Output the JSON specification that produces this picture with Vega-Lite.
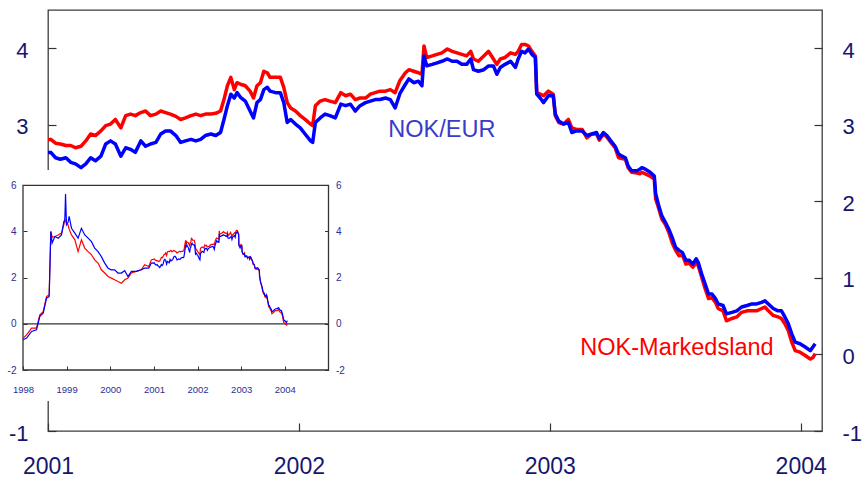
{
  "$schema": "https://vega.github.io/schema/vega-lite/v6.json",
  "width": 774,
  "height": 421,
  "autosize": "none",
  "padding": {"left": 48, "top": 10, "right": 41, "bottom": 46},
  "config": {"view": {"stroke": "#3c3c3c", "strokeWidth": 1.3}, "font": "Liberation Sans"},
  "datasets": {
    "series": [
      {"d": "1998-01-02", "mkt": -0.62, "eur": -0.69},
      {"d": "1998-01-31", "mkt": -0.48, "eur": -0.62},
      {"d": "1998-03-14", "mkt": -0.19, "eur": -0.33},
      {"d": "1998-04-24", "mkt": -0.19, "eur": -0.26},
      {"d": "1998-05-22", "mkt": 0.39, "eur": 0.32},
      {"d": "1998-06-19", "mkt": 0.53, "eur": 0.46},
      {"d": "1998-07-17", "mkt": 1.18, "eur": 1.11},
      {"d": "1998-08-08", "mkt": 1.26, "eur": 1.18},
      {"d": "1998-08-22", "mkt": 4.0, "eur": 4.0},
      {"d": "1998-09-02", "mkt": 3.75, "eur": 3.5},
      {"d": "1998-09-25", "mkt": 3.78, "eur": 3.78},
      {"d": "1998-10-22", "mkt": 3.85, "eur": 3.71},
      {"d": "1998-11-19", "mkt": 3.93, "eur": 3.85},
      {"d": "1998-12-09", "mkt": 4.3, "eur": 4.43},
      {"d": "1998-12-17", "mkt": 4.5, "eur": 4.5},
      {"d": "1998-12-23", "mkt": 4.45, "eur": 5.62},
      {"d": "1998-12-31", "mkt": 4.35, "eur": 4.29},
      {"d": "1999-01-13", "mkt": 4.29, "eur": 4.4},
      {"d": "1999-01-22", "mkt": 4.1, "eur": 4.65},
      {"d": "1999-02-11", "mkt": 3.85, "eur": 4.14},
      {"d": "1999-03-11", "mkt": 3.64, "eur": 3.93},
      {"d": "1999-04-07", "mkt": 3.13, "eur": 3.71},
      {"d": "1999-05-05", "mkt": 3.64, "eur": 4.14},
      {"d": "1999-06-02", "mkt": 3.28, "eur": 3.85},
      {"d": "1999-06-30", "mkt": 3.13, "eur": 3.71},
      {"d": "1999-07-28", "mkt": 2.99, "eur": 3.56},
      {"d": "1999-08-24", "mkt": 2.77, "eur": 3.28},
      {"d": "1999-09-21", "mkt": 2.63, "eur": 3.13},
      {"d": "1999-10-19", "mkt": 2.34, "eur": 2.91},
      {"d": "1999-11-16", "mkt": 2.2, "eur": 2.63},
      {"d": "1999-12-14", "mkt": 2.05, "eur": 2.41},
      {"d": "2000-01-10", "mkt": 1.98, "eur": 2.34},
      {"d": "2000-02-07", "mkt": 1.91, "eur": 2.34},
      {"d": "2000-03-06", "mkt": 1.83, "eur": 2.2},
      {"d": "2000-04-03", "mkt": 1.76, "eur": 2.2},
      {"d": "2000-05-01", "mkt": 1.91, "eur": 2.3},
      {"d": "2000-05-29", "mkt": 1.98, "eur": 2.05},
      {"d": "2000-06-26", "mkt": 2.2, "eur": 2.27},
      {"d": "2000-08-07", "mkt": 2.27, "eur": 2.27},
      {"d": "2000-09-17", "mkt": 2.34, "eur": 2.34},
      {"d": "2000-10-15", "mkt": 2.56, "eur": 2.41},
      {"d": "2000-11-19", "mkt": 2.48, "eur": 2.41},
      {"d": "2000-12-10", "mkt": 2.77, "eur": 2.63},
      {"d": "2001-01-05", "mkt": 2.81, "eur": 2.64},
      {"d": "2001-01-12", "mkt": 2.76, "eur": 2.57},
      {"d": "2001-01-19", "mkt": 2.75, "eur": 2.55},
      {"d": "2001-01-27", "mkt": 2.73, "eur": 2.57},
      {"d": "2001-02-03", "mkt": 2.73, "eur": 2.51},
      {"d": "2001-02-10", "mkt": 2.7, "eur": 2.49},
      {"d": "2001-02-18", "mkt": 2.72, "eur": 2.44},
      {"d": "2001-02-25", "mkt": 2.79, "eur": 2.49},
      {"d": "2001-03-04", "mkt": 2.88, "eur": 2.57},
      {"d": "2001-03-11", "mkt": 2.86, "eur": 2.53},
      {"d": "2001-03-19", "mkt": 2.92, "eur": 2.59},
      {"d": "2001-03-26", "mkt": 2.99, "eur": 2.75},
      {"d": "2001-04-02", "mkt": 3.01, "eur": 2.79},
      {"d": "2001-04-09", "mkt": 3.07, "eur": 2.75},
      {"d": "2001-04-17", "mkt": 2.96, "eur": 2.59},
      {"d": "2001-04-24", "mkt": 3.12, "eur": 2.7},
      {"d": "2001-05-01", "mkt": 3.14, "eur": 2.68},
      {"d": "2001-05-08", "mkt": 3.12, "eur": 2.64},
      {"d": "2001-05-16", "mkt": 3.16, "eur": 2.79},
      {"d": "2001-05-23", "mkt": 3.18, "eur": 2.72},
      {"d": "2001-05-30", "mkt": 3.12, "eur": 2.75},
      {"d": "2001-06-07", "mkt": 3.14, "eur": 2.77},
      {"d": "2001-06-14", "mkt": 3.18, "eur": 2.88},
      {"d": "2001-06-21", "mkt": 3.16, "eur": 2.92},
      {"d": "2001-06-28", "mkt": 3.14, "eur": 2.92},
      {"d": "2001-07-06", "mkt": 3.11, "eur": 2.86},
      {"d": "2001-07-13", "mkt": 3.07, "eur": 2.77},
      {"d": "2001-07-20", "mkt": 3.09, "eur": 2.79},
      {"d": "2001-07-28", "mkt": 3.12, "eur": 2.81},
      {"d": "2001-08-04", "mkt": 3.14, "eur": 2.79},
      {"d": "2001-08-11", "mkt": 3.12, "eur": 2.81},
      {"d": "2001-08-18", "mkt": 3.14, "eur": 2.86},
      {"d": "2001-08-26", "mkt": 3.14, "eur": 2.88},
      {"d": "2001-09-02", "mkt": 3.15, "eur": 2.86},
      {"d": "2001-09-09", "mkt": 3.18, "eur": 2.9},
      {"d": "2001-09-14", "mkt": 3.33, "eur": 3.07},
      {"d": "2001-09-19", "mkt": 3.51, "eur": 3.25},
      {"d": "2001-09-24", "mkt": 3.62, "eur": 3.4},
      {"d": "2001-09-29", "mkt": 3.46, "eur": 3.35},
      {"d": "2001-10-03", "mkt": 3.55, "eur": 3.42},
      {"d": "2001-10-08", "mkt": 3.53, "eur": 3.36},
      {"d": "2001-10-15", "mkt": 3.51, "eur": 3.31},
      {"d": "2001-10-22", "mkt": 3.44, "eur": 3.18},
      {"d": "2001-10-27", "mkt": 3.35, "eur": 3.09},
      {"d": "2001-11-01", "mkt": 3.51, "eur": 3.29},
      {"d": "2001-11-06", "mkt": 3.55, "eur": 3.33},
      {"d": "2001-11-11", "mkt": 3.7, "eur": 3.46},
      {"d": "2001-11-16", "mkt": 3.68, "eur": 3.49},
      {"d": "2001-11-20", "mkt": 3.62, "eur": 3.44},
      {"d": "2001-11-28", "mkt": 3.62, "eur": 3.42},
      {"d": "2001-12-05", "mkt": 3.62, "eur": 3.42},
      {"d": "2001-12-10", "mkt": 3.49, "eur": 3.29},
      {"d": "2001-12-15", "mkt": 3.29, "eur": 3.03},
      {"d": "2001-12-20", "mkt": 3.22, "eur": 3.07},
      {"d": "2001-12-27", "mkt": 3.18, "eur": 3.01},
      {"d": "2002-01-03", "mkt": 3.12, "eur": 2.96},
      {"d": "2002-01-10", "mkt": 3.07, "eur": 2.88},
      {"d": "2002-01-18", "mkt": 3.01, "eur": 2.79},
      {"d": "2002-01-21", "mkt": 2.99, "eur": 2.77},
      {"d": "2002-01-25", "mkt": 3.25, "eur": 3.03},
      {"d": "2002-02-01", "mkt": 3.31, "eur": 3.09},
      {"d": "2002-02-08", "mkt": 3.33, "eur": 3.14},
      {"d": "2002-02-15", "mkt": 3.31, "eur": 3.12},
      {"d": "2002-02-23", "mkt": 3.29, "eur": 3.09},
      {"d": "2002-03-03", "mkt": 3.42, "eur": 3.27},
      {"d": "2002-03-10", "mkt": 3.38, "eur": 3.25},
      {"d": "2002-03-17", "mkt": 3.4, "eur": 3.27},
      {"d": "2002-03-24", "mkt": 3.33, "eur": 3.18},
      {"d": "2002-03-31", "mkt": 3.35, "eur": 3.25},
      {"d": "2002-04-08", "mkt": 3.35, "eur": 3.29},
      {"d": "2002-04-15", "mkt": 3.4, "eur": 3.31},
      {"d": "2002-04-22", "mkt": 3.42, "eur": 3.33},
      {"d": "2002-04-29", "mkt": 3.44, "eur": 3.33},
      {"d": "2002-05-07", "mkt": 3.44, "eur": 3.35},
      {"d": "2002-05-14", "mkt": 3.46, "eur": 3.33},
      {"d": "2002-05-21", "mkt": 3.42, "eur": 3.22},
      {"d": "2002-05-28", "mkt": 3.58, "eur": 3.41},
      {"d": "2002-06-05", "mkt": 3.68, "eur": 3.53},
      {"d": "2002-06-10", "mkt": 3.72, "eur": 3.6},
      {"d": "2002-06-17", "mkt": 3.7, "eur": 3.55},
      {"d": "2002-06-24", "mkt": 3.68, "eur": 3.57},
      {"d": "2002-06-29", "mkt": 3.66, "eur": 3.51},
      {"d": "2002-07-02", "mkt": 4.03, "eur": 3.9},
      {"d": "2002-07-06", "mkt": 3.88, "eur": 3.77},
      {"d": "2002-07-14", "mkt": 3.9, "eur": 3.79},
      {"d": "2002-07-21", "mkt": 3.92, "eur": 3.81},
      {"d": "2002-07-28", "mkt": 3.94, "eur": 3.83},
      {"d": "2002-08-05", "mkt": 3.99, "eur": 3.86},
      {"d": "2002-08-12", "mkt": 3.96, "eur": 3.83},
      {"d": "2002-08-19", "mkt": 3.94, "eur": 3.83},
      {"d": "2002-08-26", "mkt": 3.92, "eur": 3.79},
      {"d": "2002-09-02", "mkt": 3.9, "eur": 3.79},
      {"d": "2002-09-08", "mkt": 3.96, "eur": 3.86},
      {"d": "2002-09-12", "mkt": 3.86, "eur": 3.72},
      {"d": "2002-09-19", "mkt": 3.83, "eur": 3.7},
      {"d": "2002-09-27", "mkt": 3.9, "eur": 3.72},
      {"d": "2002-10-04", "mkt": 3.96, "eur": 3.77},
      {"d": "2002-10-11", "mkt": 3.86, "eur": 3.77},
      {"d": "2002-10-16", "mkt": 3.79, "eur": 3.66},
      {"d": "2002-10-21", "mkt": 3.86, "eur": 3.75},
      {"d": "2002-10-28", "mkt": 3.88, "eur": 3.79},
      {"d": "2002-11-05", "mkt": 3.94, "eur": 3.83},
      {"d": "2002-11-12", "mkt": 3.92, "eur": 3.75},
      {"d": "2002-11-16", "mkt": 3.96, "eur": 3.86},
      {"d": "2002-11-21", "mkt": 4.05, "eur": 3.96},
      {"d": "2002-11-26", "mkt": 4.05, "eur": 3.94},
      {"d": "2002-12-01", "mkt": 4.03, "eur": 3.99},
      {"d": "2002-12-06", "mkt": 3.96, "eur": 3.92},
      {"d": "2002-12-11", "mkt": 3.9, "eur": 3.88},
      {"d": "2002-12-13", "mkt": 3.42, "eur": 3.4},
      {"d": "2002-12-18", "mkt": 3.4, "eur": 3.35},
      {"d": "2002-12-23", "mkt": 3.38, "eur": 3.29},
      {"d": "2002-12-30", "mkt": 3.44, "eur": 3.38},
      {"d": "2003-01-06", "mkt": 3.4, "eur": 3.38},
      {"d": "2003-01-09", "mkt": 3.12, "eur": 3.14},
      {"d": "2003-01-14", "mkt": 3.03, "eur": 3.05},
      {"d": "2003-01-21", "mkt": 3.01, "eur": 3.01},
      {"d": "2003-01-28", "mkt": 3.07, "eur": 3.03},
      {"d": "2003-02-02", "mkt": 2.96, "eur": 2.9},
      {"d": "2003-02-09", "mkt": 2.94, "eur": 2.92},
      {"d": "2003-02-17", "mkt": 2.94, "eur": 2.92},
      {"d": "2003-02-24", "mkt": 2.83, "eur": 2.86},
      {"d": "2003-03-03", "mkt": 2.88, "eur": 2.88},
      {"d": "2003-03-10", "mkt": 2.88, "eur": 2.9},
      {"d": "2003-03-14", "mkt": 2.8, "eur": 2.82},
      {"d": "2003-03-20", "mkt": 2.88, "eur": 2.9},
      {"d": "2003-03-25", "mkt": 2.84, "eur": 2.86},
      {"d": "2003-03-30", "mkt": 2.78, "eur": 2.8},
      {"d": "2003-04-06", "mkt": 2.7, "eur": 2.72},
      {"d": "2003-04-11", "mkt": 2.57, "eur": 2.62},
      {"d": "2003-04-16", "mkt": 2.56, "eur": 2.59},
      {"d": "2003-04-21", "mkt": 2.55, "eur": 2.57},
      {"d": "2003-04-25", "mkt": 2.44, "eur": 2.46},
      {"d": "2003-04-30", "mkt": 2.38, "eur": 2.4},
      {"d": "2003-05-08", "mkt": 2.37, "eur": 2.4},
      {"d": "2003-05-12", "mkt": 2.36, "eur": 2.42},
      {"d": "2003-05-15", "mkt": 2.38, "eur": 2.44},
      {"d": "2003-05-20", "mkt": 2.36, "eur": 2.42},
      {"d": "2003-05-27", "mkt": 2.33, "eur": 2.38},
      {"d": "2003-06-02", "mkt": 2.29, "eur": 2.33},
      {"d": "2003-06-04", "mkt": 2.03, "eur": 2.1},
      {"d": "2003-06-08", "mkt": 1.92, "eur": 1.96},
      {"d": "2003-06-13", "mkt": 1.77, "eur": 1.81},
      {"d": "2003-06-18", "mkt": 1.7, "eur": 1.73},
      {"d": "2003-06-23", "mkt": 1.6, "eur": 1.64},
      {"d": "2003-06-28", "mkt": 1.46, "eur": 1.53},
      {"d": "2003-07-03", "mkt": 1.36, "eur": 1.4},
      {"d": "2003-07-08", "mkt": 1.29, "eur": 1.36},
      {"d": "2003-07-13", "mkt": 1.3, "eur": 1.33},
      {"d": "2003-07-18", "mkt": 1.18, "eur": 1.23},
      {"d": "2003-07-23", "mkt": 1.19, "eur": 1.23},
      {"d": "2003-07-28", "mkt": 1.14, "eur": 1.18},
      {"d": "2003-08-02", "mkt": 1.2, "eur": 1.25},
      {"d": "2003-08-05", "mkt": 1.16, "eur": 1.2},
      {"d": "2003-08-10", "mkt": 1.01, "eur": 1.05},
      {"d": "2003-08-15", "mkt": 0.86, "eur": 0.92},
      {"d": "2003-08-20", "mkt": 0.73, "eur": 0.79},
      {"d": "2003-08-25", "mkt": 0.74, "eur": 0.79},
      {"d": "2003-08-30", "mkt": 0.68, "eur": 0.73},
      {"d": "2003-09-03", "mkt": 0.6, "eur": 0.66},
      {"d": "2003-09-10", "mkt": 0.57, "eur": 0.64},
      {"d": "2003-09-15", "mkt": 0.44, "eur": 0.53},
      {"d": "2003-09-23", "mkt": 0.47, "eur": 0.55},
      {"d": "2003-09-30", "mkt": 0.49, "eur": 0.57},
      {"d": "2003-10-07", "mkt": 0.55, "eur": 0.62},
      {"d": "2003-10-15", "mkt": 0.57, "eur": 0.64},
      {"d": "2003-10-22", "mkt": 0.57, "eur": 0.66},
      {"d": "2003-10-29", "mkt": 0.57, "eur": 0.66},
      {"d": "2003-11-05", "mkt": 0.6, "eur": 0.68},
      {"d": "2003-11-10", "mkt": 0.62, "eur": 0.7},
      {"d": "2003-11-15", "mkt": 0.57, "eur": 0.66},
      {"d": "2003-11-22", "mkt": 0.51, "eur": 0.6},
      {"d": "2003-11-29", "mkt": 0.49, "eur": 0.57},
      {"d": "2003-12-04", "mkt": 0.47, "eur": 0.57},
      {"d": "2003-12-09", "mkt": 0.4, "eur": 0.49},
      {"d": "2003-12-14", "mkt": 0.31, "eur": 0.4},
      {"d": "2003-12-19", "mkt": 0.16, "eur": 0.27},
      {"d": "2003-12-24", "mkt": 0.05, "eur": 0.16},
      {"d": "2003-12-31", "mkt": 0.03, "eur": 0.14},
      {"d": "2004-01-07", "mkt": -0.01, "eur": 0.1},
      {"d": "2004-01-15", "mkt": -0.06, "eur": 0.05},
      {"d": "2004-01-19", "mkt": -0.04, "eur": 0.1},
      {"d": "2004-01-22", "mkt": 0.01, "eur": 0.14}
    ],
    "labelEur": [{"d": "2002-07-28", "v": 2.84, "t": "NOK/EUR"}],
    "labelMkt": [{"d": "2003-07-05", "v": -0.01, "t": "NOK-Markedsland"}],
    "insetBg": [{"x1": "1997-06-22", "x2": "2005-06-20", "y1": -3.34, "y2": 6.66}],
    "insetBox": [{"x1": "1998-01-01", "x2": "2005-01-01", "y1": -2, "y2": 6, "zero": 0}]
  },
  "layer": [
    {
      "data": {"name": "series"},
      "mark": {"type": "line", "color": "#ff0000", "strokeWidth": 3.5, "strokeJoin": "round", "clip": true},
      "encoding": {
        "x": {"field": "d", "type": "temporal",
          "scale": {"type": "utc", "nice": false, "domain": [{"year": 2001, "month": 1, "date": 1, "utc": true}, {"year": 2004, "month": 2, "date": 1, "utc": true}]},
          "axis": {"orient": "bottom", "title": null, "format": "%Y", "domain": false, "grid": false,
            "values": [{"year": 2001, "month": 1, "date": 1, "utc": true}, {"year": 2002, "month": 1, "date": 1, "utc": true}, {"year": 2003, "month": 1, "date": 1, "utc": true}, {"year": 2004, "month": 1, "date": 1, "utc": true}],
            "tickSize": -8, "tickColor": "#333333", "tickWidth": 1.2, "labelPadding": 32, "labelFontSize": 23,
            "labelColor": "#16166e", "labelFlush": false, "labelOverlap": false}},
        "y": {"field": "mkt", "type": "quantitative",
          "scale": {"domain": [-1, 4.5], "nice": false, "zero": false},
          "axis": {"orient": "left", "title": null, "domain": false, "grid": false, "values": [-1, 0, 1, 2, 3, 4],
            "labelExpr": "'' + datum.value",
            "tickSize": -8, "tickColor": "#333333", "tickWidth": 1.2, "labelPadding": 28, "labelFontSize": 22,
            "labelColor": "#16166e", "labelOffset": 2}}
      }
    },
    {
      "data": {"name": "series"},
      "mark": {"type": "line", "color": "#0000ff", "strokeWidth": 3.5, "strokeJoin": "round", "clip": true},
      "encoding": {
        "x": {"field": "d", "type": "temporal",
          "scale": {"type": "utc", "nice": false, "domain": [{"year": 2001, "month": 1, "date": 1, "utc": true}, {"year": 2004, "month": 2, "date": 1, "utc": true}]},
          "axis": null},
        "y": {"field": "eur", "type": "quantitative",
          "scale": {"domain": [-1, 4.5], "nice": false, "zero": false},
          "axis": {"orient": "right", "title": null, "domain": false, "grid": false, "values": [-1, 0, 1, 2, 3, 4],
            "labelExpr": "'' + datum.value",
            "tickSize": -8, "tickColor": "#333333", "tickWidth": 1.2, "labelPadding": 28, "labelFontSize": 22,
            "labelColor": "#16166e", "labelOffset": 2}}
      }
    },
    {
      "data": {"name": "labelEur"},
      "mark": {"type": "text", "fontSize": 23.5, "color": "#3a3acc", "align": "center", "baseline": "alphabetic"},
      "encoding": {
        "x": {"field": "d", "type": "temporal",
          "scale": {"type": "utc", "nice": false, "domain": [{"year": 2001, "month": 1, "date": 1, "utc": true}, {"year": 2004, "month": 2, "date": 1, "utc": true}]},
          "axis": null},
        "y": {"field": "v", "type": "quantitative", "scale": {"domain": [-1, 4.5], "nice": false, "zero": false}, "axis": null},
        "text": {"field": "t"}
      }
    },
    {
      "data": {"name": "labelMkt"},
      "mark": {"type": "text", "fontSize": 23.5, "color": "#ff0000", "align": "center", "baseline": "alphabetic"},
      "encoding": {
        "x": {"field": "d", "type": "temporal",
          "scale": {"type": "utc", "nice": false, "domain": [{"year": 2001, "month": 1, "date": 1, "utc": true}, {"year": 2004, "month": 2, "date": 1, "utc": true}]},
          "axis": null},
        "y": {"field": "v", "type": "quantitative", "scale": {"domain": [-1, 4.5], "nice": false, "zero": false}, "axis": null},
        "text": {"field": "t"}
      }
    },
    {
      "data": {"name": "insetBg"},
      "mark": {"type": "rect", "fill": "#ffffff", "strokeWidth": 0},
      "encoding": {
        "x": {"field": "x1", "type": "temporal",
          "scale": {"type": "utc", "nice": false, "range": [-25, 280.5], "domain": [{"year": 1998, "month": 1, "date": 1, "utc": true}, {"year": 2005, "month": 1, "date": 1, "utc": true}]},
          "axis": null},
        "x2": {"field": "x2"},
        "y": {"field": "y1", "type": "quantitative", "scale": {"domain": [-2, 6], "range": [360, 175.3], "nice": false, "zero": false}, "axis": null},
        "y2": {"field": "y2"}
      }
    },
    {
      "data": {"name": "insetBox"},
      "mark": {"type": "rect", "filled": false, "stroke": "#333333", "strokeWidth": 1.3},
      "encoding": {
        "x": {"field": "x1", "type": "temporal",
          "scale": {"type": "utc", "nice": false, "range": [-25, 280.5], "domain": [{"year": 1998, "month": 1, "date": 1, "utc": true}, {"year": 2005, "month": 1, "date": 1, "utc": true}]},
          "axis": {"orient": "bottom", "offset": -61, "title": null, "format": "%Y", "domain": false, "grid": false, "zindex": 1,
            "values": [{"year": 1998, "month": 1, "date": 1, "utc": true}, {"year": 1999, "month": 1, "date": 1, "utc": true}, {"year": 2000, "month": 1, "date": 1, "utc": true}, {"year": 2001, "month": 1, "date": 1, "utc": true}, {"year": 2002, "month": 1, "date": 1, "utc": true}, {"year": 2003, "month": 1, "date": 1, "utc": true}, {"year": 2004, "month": 1, "date": 1, "utc": true}],
            "tickSize": -4, "tickColor": "#333333", "labelPadding": 18, "labelFontSize": 9.5, "labelColor": "#2d2d96",
            "labelFlush": false, "labelOverlap": false}},
        "x2": {"field": "x2"},
        "y": {"field": "y1", "type": "quantitative", "scale": {"domain": [-2, 6], "range": [360, 175.3], "nice": false, "zero": false},
          "axis": {"orient": "left", "offset": 25, "title": null, "domain": false, "grid": false, "zindex": 1, "values": [-2, 0, 2, 4, 6],
            "labelExpr": "'' + datum.value",
            "tickSize": -4, "tickColor": "#333333", "labelPadding": 11, "labelFontSize": 10, "labelColor": "#2d2d96"}},
        "y2": {"field": "y2"}
      }
    },
    {
      "data": {"name": "insetBox"},
      "mark": {"type": "rule", "color": "#333333", "strokeWidth": 1.1},
      "encoding": {
        "x": {"field": "x1", "type": "temporal",
          "scale": {"type": "utc", "nice": false, "range": [-25, 280.5], "domain": [{"year": 1998, "month": 1, "date": 1, "utc": true}, {"year": 2005, "month": 1, "date": 1, "utc": true}]},
          "axis": null},
        "x2": {"field": "x2"},
        "y": {"field": "zero", "type": "quantitative", "scale": {"domain": [-2, 6], "range": [360, 175.3], "nice": false, "zero": false},
          "axis": {"orient": "right", "offset": -493.5, "title": null, "domain": false, "grid": false, "zindex": 1, "values": [-2, 0, 2, 4, 6],
            "labelExpr": "'' + datum.value",
            "tickSize": -4, "tickColor": "#333333", "labelPadding": 11, "labelFontSize": 10, "labelColor": "#2d2d96"}}
      }
    },
    {
      "data": {"name": "series"},
      "mark": {"type": "line", "color": "#ff0000", "strokeWidth": 1.2},
      "encoding": {
        "x": {"field": "d", "type": "temporal",
          "scale": {"type": "utc", "nice": false, "range": [-25, 280.5], "domain": [{"year": 1998, "month": 1, "date": 1, "utc": true}, {"year": 2005, "month": 1, "date": 1, "utc": true}]},
          "axis": null},
        "y": {"field": "mkt", "type": "quantitative", "scale": {"domain": [-2, 6], "range": [360, 175.3], "nice": false, "zero": false}, "axis": null}
      }
    },
    {
      "data": {"name": "series"},
      "mark": {"type": "line", "color": "#0000ff", "strokeWidth": 1.2},
      "encoding": {
        "x": {"field": "d", "type": "temporal",
          "scale": {"type": "utc", "nice": false, "range": [-25, 280.5], "domain": [{"year": 1998, "month": 1, "date": 1, "utc": true}, {"year": 2005, "month": 1, "date": 1, "utc": true}]},
          "axis": null},
        "y": {"field": "eur", "type": "quantitative", "scale": {"domain": [-2, 6], "range": [360, 175.3], "nice": false, "zero": false}, "axis": null}
      }
    }
  ],
  "resolve": {"scale": {"x": "independent", "y": "independent"}, "axis": {"x": "independent", "y": "independent"}}
}
